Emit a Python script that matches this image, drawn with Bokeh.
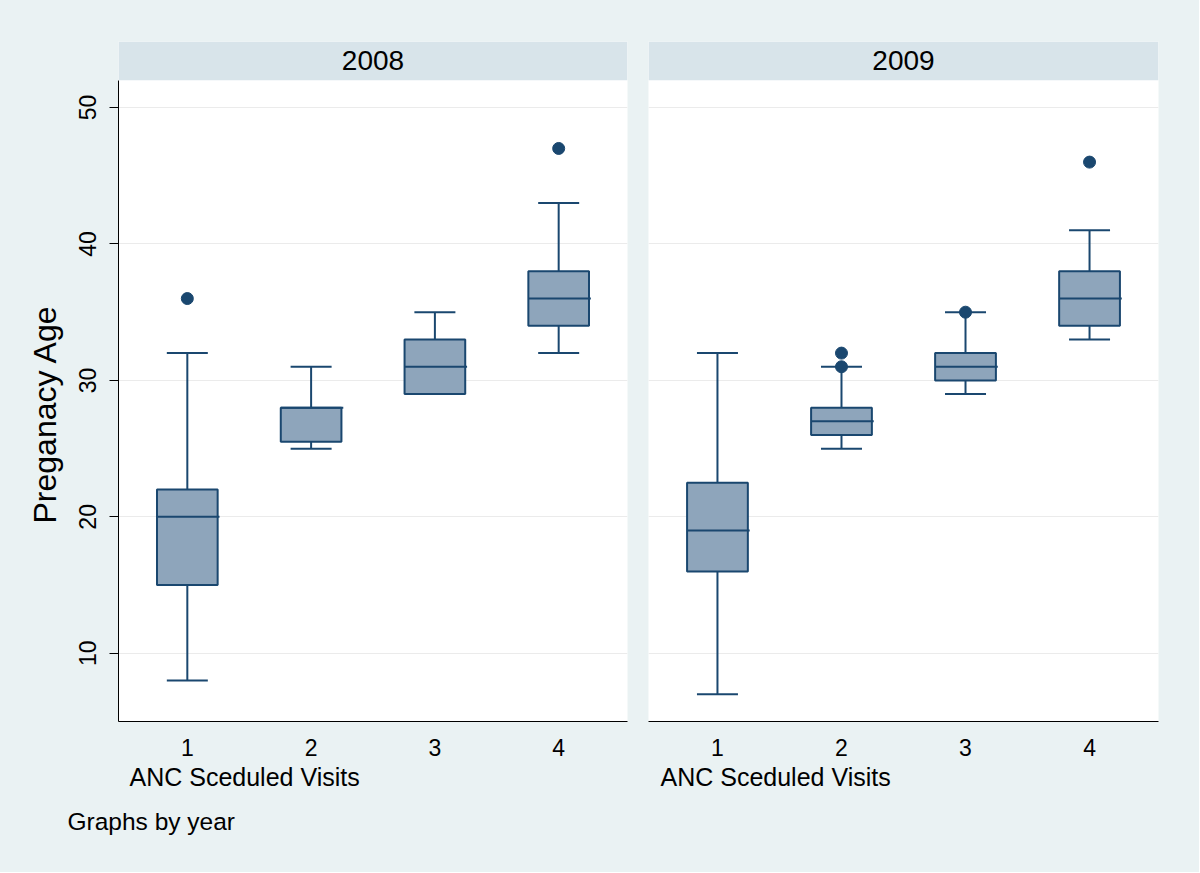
from bokeh.plotting import figure
from bokeh.layouts import row
from bokeh.models import (ColumnDataSource, FixedTicker, Whisker, TeeHead,
                          BoxAnnotation, Label, Title)
from bokeh.transform import dodge
from bokeh.embed import file_html
from bokeh.resources import INLINE

# ---------------- data ----------------
visits = [1, 2, 3, 4]
visit_labels = ["1", "2", "3", "4"]
years = ["2008", "2009"]

lower_2008 = [8, 25, 29, 32]
q1_2008 = [15, 25.5, 29, 34]
median_2008 = [20, 28, 31, 36]
q3_2008 = [22, 28, 33, 38]
upper_2008 = [32, 31, 35, 43]
out_x_2008 = [1, 4]
out_y_2008 = [36, 47]

lower_2009 = [7, 25, 29, 33]
q1_2009 = [16, 26, 30, 34]
median_2009 = [19, 27, 31, 36]
q3_2009 = [22.5, 28, 32, 38]
upper_2009 = [32, 31, 35, 41]
out_x_2009 = [2, 2, 3, 4]
out_y_2009 = [32, 31, 35, 46]

y_ticks = [10, 20, 30, 40, 50]

# ---------------- style ----------------
BG = "#EAF2F3"
STRIP = "#D8E4EA"
NAVY = "#1A476F"
BOXFILL = "#8EA5BB"
GRID = "#EBEBEB"
FONT = "Liberation Sans"

X_RANGE = (0.444, 4.556)
Y_RANGE = (5.0, 54.84)
STRIP_BOTTOM = 52.0
H = 872


def make_panel(year, lower, q1, med, q3, upper, ox, oy, first):
    src = ColumnDataSource(dict(x=visits, lower=lower, q1=q1, med=med,
                                q3=q3, upper=upper))
    osrc = ColumnDataSource(dict(x=ox, y=oy))
    if first:
        w, mbl, mbr = 637, 118, 10
    else:
        w, mbl, mbr = 562, 11, 41
    p = figure(width=w, height=H, x_range=X_RANGE, y_range=Y_RANGE,
               min_border_left=mbl, min_border_right=mbr,
               min_border_top=41, min_border_bottom=H - 721,
               output_backend="svg", toolbar_location=None)
    p.border_fill_color = BG
    p.background_fill_color = "white"
    p.outline_line_color = None

    # strip header
    p.add_layout(BoxAnnotation(bottom=STRIP_BOTTOM, fill_color=STRIP,
                               fill_alpha=1, line_color=None))
    p.add_layout(Label(x=sum(X_RANGE) / 2, y=53.45, text=year,
                       text_align="center", text_baseline="middle",
                       text_font=FONT, text_font_size="28px",
                       text_color="black"))

    # grid
    p.xgrid.visible = False
    p.ygrid.ticker = FixedTicker(ticks=y_ticks)
    p.ygrid.grid_line_color = GRID
    p.ygrid.grid_line_width = 1

    # axes
    p.xaxis.ticker = FixedTicker(ticks=visits)
    p.xaxis.major_label_overrides = {v: l for v, l in zip(visits, visit_labels)}
    p.xaxis.major_tick_out = 0
    p.xaxis.major_tick_in = 0
    p.xaxis.minor_tick_out = 0
    p.xaxis.minor_tick_in = 0
    p.xaxis.axis_line_color = "black"
    p.xaxis.axis_line_width = 1
    p.xaxis.major_label_text_font = FONT
    p.xaxis.major_label_text_font_size = "23px"
    p.xaxis.major_label_text_color = "black"
    p.xaxis.major_label_standoff = 17

    p.yaxis.ticker = FixedTicker(ticks=y_ticks)
    p.yaxis.bounds = (Y_RANGE[0], STRIP_BOTTOM)
    p.yaxis.major_tick_out = 9
    p.yaxis.major_tick_in = 0
    p.yaxis.minor_tick_out = 0
    p.yaxis.minor_tick_in = 0
    p.yaxis.axis_line_color = "black"
    p.yaxis.major_tick_line_color = "black"
    p.yaxis.major_label_orientation = "vertical"
    p.yaxis.major_label_text_font = FONT
    p.yaxis.major_label_text_font_size = "23px"
    p.yaxis.major_label_text_color = "black"
    p.yaxis.major_label_standoff = 13
    if first:
        p.add_layout(Title(text="Preganacy Age", align="left", offset=198,
                           standoff=28, text_font=FONT,
                           text_font_size="32px", text_font_style="normal",
                           text_color="black"), "left")
    else:
        p.yaxis.visible = False

    # x-axis title (left aligned, as in the source)
    p.add_layout(Title(text="ANC Sceduled Visits", align="left",
                       offset=11 if first else 12, standoff=5,
                       text_font=FONT, text_font_size="25px",
                       text_font_style="normal", text_color="black"),
                 "below")
    if first:
        p.add_layout(Title(text="Graphs by year", align="left", offset=-51,
                           standoff=24, text_font=FONT,
                           text_font_size="24.5px", text_font_style="normal",
                           text_color="black"), "below")

    # whiskers (drawn beneath the boxes)
    wk = Whisker(base="x", lower="lower", upper="upper", source=src,
                 dimension="height", line_color=NAVY, line_width=2,
                 level="underlay",
                 upper_head=TeeHead(size=41, line_color=NAVY, line_width=2),
                 lower_head=TeeHead(size=41, line_color=NAVY, line_width=2))
    p.add_layout(wk)

    # boxes
    p.vbar(x="x", width=0.49, bottom="q1", top="q3", source=src,
           fill_color=BOXFILL, line_color=NAVY, line_width=2)
    # medians
    p.segment(x0=dodge("x", -0.245, range=p.x_range),
              y0="med",
              x1=dodge("x", 0.26, range=p.x_range),
              y1="med", source=src, line_color=NAVY, line_width=2)
    # outliers
    p.scatter(x="x", y="y", source=osrc, size=12, fill_color=NAVY,
              line_color=NAVY)
    return p


p1 = make_panel("2008", lower_2008, q1_2008, median_2008, q3_2008,
                upper_2008, out_x_2008, out_y_2008, True)
p2 = make_panel("2009", lower_2009, q1_2009, median_2009, q3_2009,
                upper_2009, out_x_2009, out_y_2009, False)

layout = row(p1, p2)
layout.spacing = 0
layout.styles = {"background-color": BG}
open("out.html", "w").write(file_html(layout, INLINE))
